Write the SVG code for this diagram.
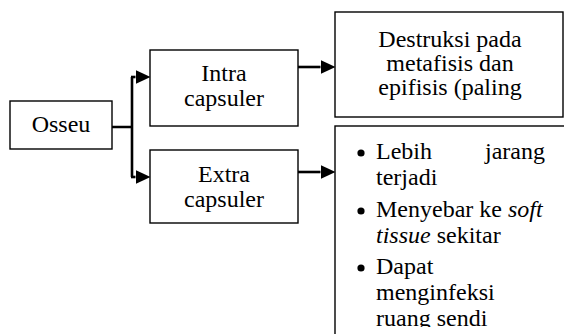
<svg xmlns="http://www.w3.org/2000/svg" width="564" height="334" viewBox="0 0 564 334">
<defs>
<style>
.box{fill:#fff;stroke:#000;stroke-width:1.4}
.t{font-family:"Liberation Serif","Times New Roman",serif;font-size:24px;fill:#000}
.c{text-anchor:middle}
.ln{fill:none;stroke:#000;stroke-width:2.6}
</style>
<marker id="ah" viewBox="0 0 15 14" refX="0" refY="7" markerWidth="15" markerHeight="14" markerUnits="userSpaceOnUse" orient="auto">
<path d="M0,0 L15,7 L0,14 z" fill="#000"/>
</marker>
<clipPath id="clipList"><rect x="335" y="126" width="240" height="201"/></clipPath>
</defs>
<rect width="564" height="334" fill="#fff"/>
<g id="connectors">
<path class="ln" d="M112,127 H132 M132,77 V177"/>
<path class="ln" d="M131,77 H135.5" marker-end="url(#ah)"/>
<path class="ln" d="M131,177 H135.5" marker-end="url(#ah)"/>
<path class="ln" d="M298,67 H320.5" marker-end="url(#ah)"/>
<path class="ln" d="M298,172 H320.5" marker-end="url(#ah)"/>
</g>
<g id="osseu">
<rect class="box" x="10" y="101" width="102" height="48"/>
<text class="t c" x="61" y="132">Osseu</text>
</g>
<g id="intra">
<rect class="box" x="150" y="50" width="148" height="76"/>
<text class="t c" x="224" y="81">Intra</text>
<text class="t c" x="224" y="106">capsuler</text>
</g>
<g id="extra">
<rect class="box" x="150" y="150" width="148" height="73"/>
<text class="t c" x="224" y="182">Extra</text>
<text class="t c" x="224" y="207">capsuler</text>
</g>
<g id="destruksi">
<rect class="box" x="335" y="12" width="228" height="105"/>
<text class="t c" x="450" y="47">Destruksi pada</text>
<text class="t c" x="450" y="71">metafisis dan</text>
<text class="t c" x="450" y="95">epifisis (paling</text>
</g>
<g id="extra-list">
<rect class="box" x="335" y="126" width="240" height="220"/>
<g clip-path="url(#clipList)">
<circle cx="361" cy="153" r="3.6"/>
<text class="t" x="376" y="159">Lebih</text>
<text class="t" x="545" y="159" text-anchor="end">jarang</text>
<text class="t" x="376" y="185">terjadi</text>
<circle cx="361" cy="211" r="3.6"/>
<text class="t" x="376" y="217">Menyebar ke <tspan font-style="italic">soft</tspan></text>
<text class="t" x="376" y="243"><tspan font-style="italic">tissue</tspan> sekitar</text>
<circle cx="361" cy="268" r="3.6"/>
<text class="t" x="376" y="274">Dapat</text>
<text class="t" x="376" y="300">menginfeksi</text>
<text class="t" x="376" y="326">ruang sendi</text>
</g>
</g>
</svg>
